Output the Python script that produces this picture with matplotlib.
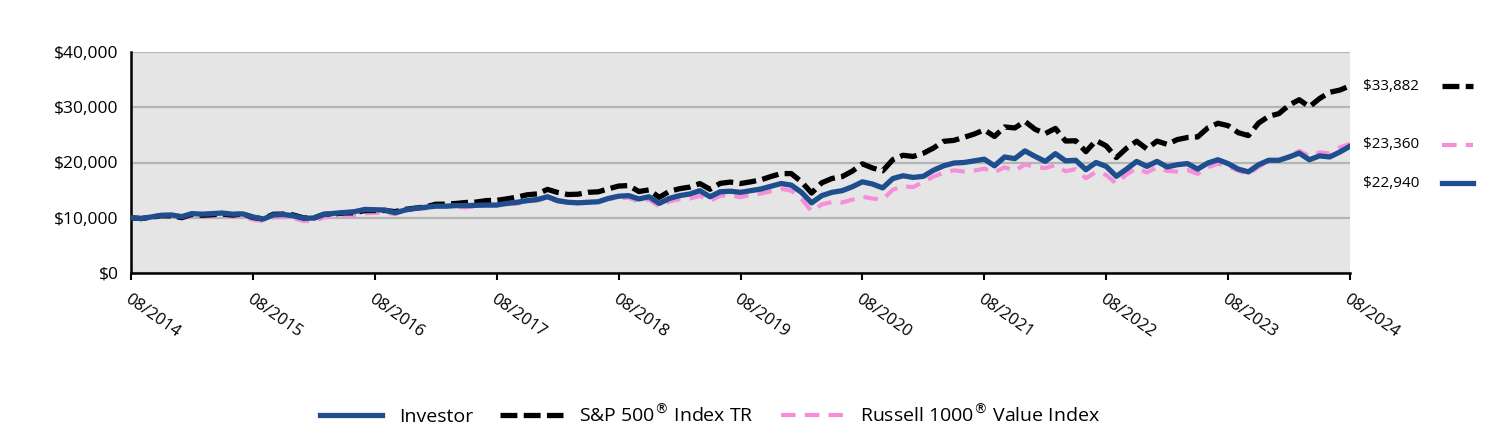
import matplotlib
matplotlib.use("Agg")
import matplotlib.pyplot as plt
import numpy as np
from matplotlib.lines import Line2D

# ---------------- data ----------------
tick_labels = ["08/2014", "08/2015", "08/2016", "08/2017", "08/2018", "08/2019",
               "08/2020", "08/2021", "08/2022", "08/2023", "08/2024"]
y_ticks = [0, 10000, 20000, 30000, 40000]
y_tick_labels = ["$0", "$10,000", "$20,000", "$30,000", "$40,000"]

series_names = ["Investor", "S&P 500$^{\u00AE}$ Index TR", "Russell 1000$^{\u00AE}$ Value Index"]
end_labels = ["$33,882", "$23,360", "$22,940"]

investor = [
    10000, 9850, 10150, 10450, 10500, 10200, 10750, 10650, 10750, 10850,
    10650, 10700, 10150, 9750, 10500, 10600, 10350, 9900, 9950, 10600,
    10800, 10950, 11100, 11500, 11450, 11400, 10900, 11400, 11700, 11900,
    12100, 12100, 12200, 12200, 12250, 12300, 12300, 12600, 12800, 13100,
    13300, 13800, 13100, 12800, 12700, 12800, 12900, 13500, 13900, 14000,
    13400, 13800, 12600, 13500, 14000, 14300, 14900, 13800, 14700, 14800,
    14600, 14900, 15200, 15700, 16200, 15900, 14600, 12700, 14000, 14600,
    14900, 15600, 16500, 16100, 15400, 17100, 17600, 17300, 17500, 18600,
    19400, 19900, 20000, 20300, 20600, 19400, 21000, 20700, 22100, 21100,
    20200, 21600, 20300, 20400, 18700, 20000, 19300, 17500, 18800, 20200,
    19300, 20200, 19200, 19600, 19800, 18800, 19900, 20500, 19800, 18800,
    18300, 19600, 20400, 20400, 21000, 21700, 20500, 21200, 21000, 21900,
    22940]

sp500 = [
    10000, 9860, 10101, 10372, 10346, 10036, 10613, 10445, 10545, 10681,
    10474, 10694, 10049, 9801, 10628, 10660, 10492, 9971, 9958, 10633,
    10675, 10867, 10895, 11297, 11313, 11315, 11109, 11520, 11748, 11971,
    12446, 12461, 12589, 12767, 12846, 13110, 13151, 13422, 13735, 14157,
    14314, 15134, 14576, 14206, 14260, 14603, 14694, 15240, 15737, 15827,
    14744, 15045, 13686, 14782, 15257, 15553, 16183, 15155, 16224, 16457,
    16197, 16500, 16858, 17470, 17998, 17991, 16510, 14471, 16326, 17103,
    17443, 18427, 19752, 19001, 18496, 20521, 21309, 21094, 21676, 22626,
    23834, 24001, 24560, 25144, 25909, 24704, 26436, 26254, 27430, 26012,
    25234, 26170, 23888, 23931, 21957, 23981, 23003, 20884, 22576, 23838,
    22465, 23876, 23293, 24148, 24525, 24630, 26258, 27101, 26670, 25398,
    24865, 27135, 28367, 28844, 30384, 31362, 30083, 31575, 32709, 33108,
    33882]

russell = [
    10000, 9800, 10020, 10220, 10290, 9870, 10350, 10210, 10270, 10390,
    10180, 10220, 9660, 9370, 10070, 10110, 9900, 9390, 9390, 10060,
    10270, 10400, 10490, 10800, 10880, 10860, 10690, 11300, 11590, 11680,
    12100, 11980, 11960, 11880, 12070, 12230, 12090, 12450, 12540, 12930,
    13120, 13630, 12950, 12730, 12760, 12840, 12870, 13380, 13580, 13610,
    12910, 13300, 12030, 12960, 13380, 13470, 13940, 13050, 13980, 14100,
    13690, 14180, 14380, 14810, 15220, 14900, 13460, 11160, 12420, 12840,
    12760, 13270, 13810, 13470, 13300, 15090, 15670, 15540, 16480, 17450,
    18160, 18580, 18370, 18520, 18890, 18220, 19150, 18490, 19660, 19210,
    18990, 19530, 18430, 18790, 17150, 18300, 17730, 16180, 17840, 18950,
    18190, 19130, 18470, 18370, 18650, 17940, 19130, 19800, 19260, 18520,
    17870, 19220, 20280, 20310, 21060, 22120, 21170, 21850, 21650, 22750,
    23360]

# ---------------- style ----------------
BLUE = "#1F4E8F"
PINK = "#F58FDA"
BLACK = "#000000"
BG = "#E5E5E5"
GRID = "#B4B4B4"
FONT = ["Open Sans", "DejaVu Sans"]
plt.rcParams["font.family"] = FONT

W, H = 1512, 432
fig = plt.figure(figsize=(W / 100, H / 100), dpi=100)
L, R, T, B = 131, 1350, 52, 273
ax = fig.add_axes([L / W, 1 - B / H, (R - L) / W, (B - T) / H])
ax.set_facecolor(BG)

x = np.arange(len(investor))
ax.plot(x, russell, color=PINK, lw=3.0, dashes=(3.5, 2.2), zorder=3)
ax.plot(x, sp500, color=BLACK, lw=3.8, dashes=(3.2, 1.2), zorder=4)
ax.plot(x, investor, color=BLUE, lw=3.8, zorder=5)

ax.set_xlim(0, len(investor) - 1)
ax.set_ylim(y_ticks[0], y_ticks[-1])
ax.set_yticks(y_ticks)
ax.set_yticklabels(y_tick_labels, fontsize=12.5)
ax.tick_params(axis="y", length=0, pad=9)
ax.grid(axis="y", color=GRID, lw=1.6, zorder=1)
ax.set_axisbelow(True)

xt = np.arange(0, len(investor), 12)
ax.set_xticks(xt)
ax.set_xticklabels(tick_labels, fontsize=12, rotation=-35, ha="left", va="top",
                   rotation_mode="anchor")
ax.tick_params(axis="x", length=5, width=1.5, direction="out", pad=8)

for s in ["top", "right"]:
    ax.spines[s].set_visible(False)
for s in ["left", "bottom"]:
    ax.spines[s].set_linewidth(1.8)
    ax.spines[s].set_color("black")

# ---------------- end labels ----------------
label_y_px = [86, 145, 183]
styles = [dict(color=BLACK, lw=3.8, dashes=(3.2, 1.2)),
          dict(color=PINK, lw=3.0, dashes=(3.5, 2.2)),
          dict(color=BLUE, lw=3.8)]
for lab, ypx, st in zip(end_labels, label_y_px, styles):
    fig.text(1363 / W, 1 - ypx / H, lab, fontsize=11, va="center", ha="left")
    fig.add_artist(Line2D([1442 / W, 1473 / W], [1 - ypx / H, 1 - ypx / H],
                          transform=fig.transFigure, **st))

# ---------------- legend ----------------
handles = [Line2D([], [], color=BLUE, lw=3.8),
           Line2D([], [], color=BLACK, lw=3.8, dashes=(3.2, 1.2)),
           Line2D([], [], color=PINK, lw=3.0, dashes=(3.5, 2.2))]
fig.legend(handles, series_names, loc="center", bbox_to_anchor=(710 / W, 1 - 415 / H),
           ncol=3, frameon=False, fontsize=14, handlelength=3.2, handletextpad=0.85,
           columnspacing=1.4)

fig.savefig("out.png", dpi=100)
